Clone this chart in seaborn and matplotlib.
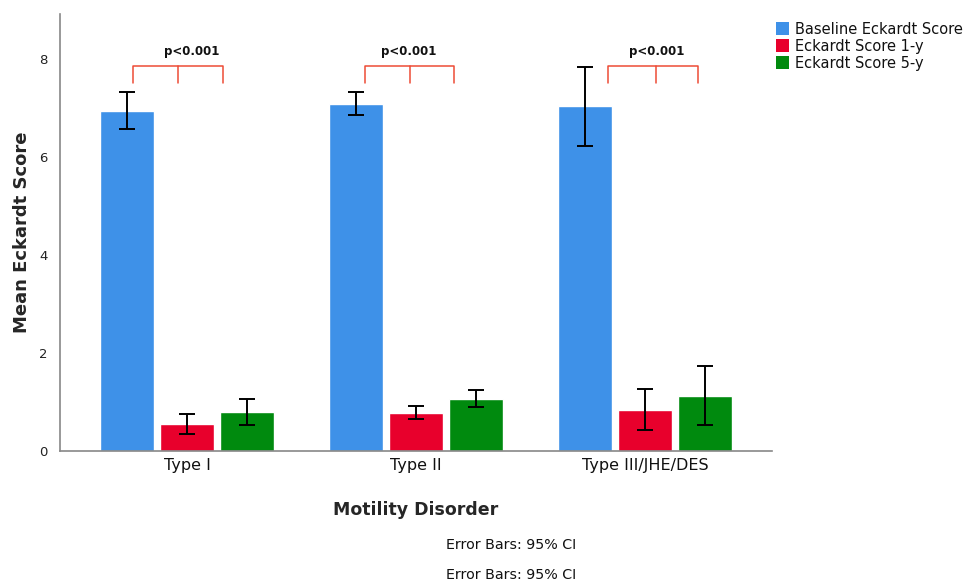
import matplotlib
matplotlib.use("Agg")
import matplotlib.pyplot as plt
import seaborn as sns
import pandas as pd
import numpy as np
from matplotlib.patches import Patch

# ---- data ----
categories = ["Type I", "Type II", "Type III/JHE/DES"]
series = ["Baseline Eckardt Score", "Eckardt Score 1-y", "Eckardt Score 5-y"]
baseline_mean = [6.94, 7.08, 7.04]
baseline_lo = [6.57, 6.86, 6.22]
baseline_hi = [7.33, 7.33, 7.84]
y1_mean = [0.55, 0.78, 0.84]
y1_lo = [0.35, 0.65, 0.43]
y1_hi = [0.76, 0.92, 1.27]
y5_mean = [0.80, 1.06, 1.12]
y5_lo = [0.53, 0.90, 0.53]
y5_hi = [1.06, 1.24, 1.73]
p_labels = ["p<0.001", "p<0.001", "p<0.001"]

colors = ["#3E91E8", "#E8002C", "#008A0E"]

means = [baseline_mean, y1_mean, y5_mean]
los = [baseline_lo, y1_lo, y5_lo]
his = [baseline_hi, y1_hi, y5_hi]

df = pd.DataFrame({
    "Motility Disorder": categories * 3,
    "Series": [s for s in series for _ in categories],
    "Mean": baseline_mean + y1_mean + y5_mean,
})

sns.set_style("white")
plt.rcParams["font.family"] = ["DejaVu Sans"]
plt.rcParams["text.color"] = "#111111"

fig = plt.figure(figsize=(9.68, 5.82), dpi=100)
ax = fig.add_axes([0.062, 0.225, 0.7355, 0.751])

sns.barplot(data=df, x="Motility Disorder", y="Mean", hue="Series",
            palette=colors, width=0.786, gap=0.1, errorbar=None,
            saturation=1, ax=ax, legend=False)

# error bars from CI arrays
for cont, m, lo, hi in zip(ax.containers, means, los, his):
    xs = [b.get_x() + b.get_width() / 2 for b in cont]
    m = np.array(m); lo = np.array(lo); hi = np.array(hi)
    ax.errorbar(xs, m, yerr=[m - lo, hi - m], fmt="none", ecolor="black",
                elinewidth=1.4, capsize=6, capthick=1.4, zorder=5)

# significance brackets
bracket_offsets = [(-0.236, -0.04, 0.157), (-0.223, -0.026, 0.166), (-0.16, 0.05, 0.23)]
text_offsets = [0.02, -0.03, 0.05]
for i, (offs, to, lab) in enumerate(zip(bracket_offsets, text_offsets, p_labels)):
    l, mid, r = [i + o for o in offs]
    ax.plot([l, l, r, r], [7.51, 7.86, 7.86, 7.51], color="#EE4B36", lw=1.1, clip_on=False)
    ax.plot([mid, mid], [7.86, 7.51], color="#EE4B36", lw=1.1, clip_on=False)
    ax.text(i + to, 8.15, lab, ha="center", va="center", fontsize=8.5, fontweight="bold")

ax.set_xlim(-0.555, 2.555)
ax.set_ylim(0, 8.92)
ax.set_yticks([0, 2, 4, 6, 8])
ax.tick_params(axis="y", length=0, pad=9, labelsize=9.5, labelcolor="#222222")
ax.tick_params(axis="x", length=0, pad=5, labelsize=11.5, labelcolor="#111111")
for s in ["top", "right"]:
    ax.spines[s].set_visible(False)
for s in ["left", "bottom"]:
    ax.spines[s].set_color("#888888")
    ax.spines[s].set_linewidth(1.2)
ax.set_ylabel("Mean Eckardt Score", fontsize=13, fontweight="bold", labelpad=6)
ax.set_xlabel("Motility Disorder", fontsize=12.5, fontweight="bold", labelpad=20)

# legend
handles = [Patch(facecolor=c, edgecolor="none") for c in colors]
fig.legend(handles, series, loc="upper left", bbox_to_anchor=(0.796, 0.973),
           frameon=False, fontsize=10.5, handlelength=0.9, handleheight=1.0,
           handletextpad=0.35, labelspacing=0.15, borderaxespad=0)

fig.text(0.528, 1 - 545 / 582, "Error Bars: 95% CI", ha="center", va="center", fontsize=10.3)
fig.text(0.528, 1 - 575 / 582, "Error Bars: 95% CI", ha="center", va="center", fontsize=10.3)

fig.savefig("out.png", dpi=100)
